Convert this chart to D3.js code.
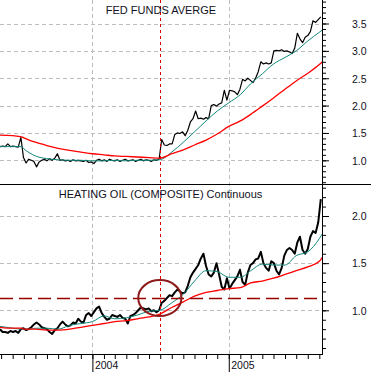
<!DOCTYPE html>
<html><head><meta charset="utf-8">
<script src="https://cdn.jsdelivr.net/npm/d3@7"></script>
<style>body{margin:0;background:#fff}svg{display:block}</style>
</head><body><svg id="c" width="371" height="372"></svg>
<script>
// ---------- DATA ----------
const weekStart = "2003-04-28";           // weekly readings start here, one value per week
const fedDaily = [
 1.25,1.26,1.25,1.30,1.25,1.26,1.25,1.24,1.42,1.05,
 0.95,1.02,1.00,0.98,0.88,0.97,1.00,1.02,0.99,1.03,
 1.00,1.04,1.12,1.00,1.01,0.99,1.00,0.98,1.01,0.99,
 1.00,0.99,0.98,1.00,0.96,0.97,0.94,1.00,1.02,0.99,
 1.01,0.98,1.02,1.00,0.99,1.01,0.98,1.00,1.02,0.99,
 1.00,1.01,0.98,1.00,1.02,0.99,1.01,1.00,0.98,1.01,
 1.00,1.02,
 1.38,1.28,1.27,1.30,1.30,1.47,1.50,1.49,
 1.52,1.45,1.55,1.70,1.76,1.90,1.76,1.77,1.75,1.78,
 1.76,2.00,2.02,1.99,2.03,2.05,2.28,2.10,2.28,2.27,
 2.25,2.20,2.30,2.48,2.45,2.50,2.46,2.42,2.50,2.62,
 2.80,2.76,2.78,2.76,2.78,3.00,3.01,3.00,3.02,2.99,
 3.00,2.98,2.95,3.05,3.32,3.22,3.15,3.25,3.28,3.35,
 3.55,3.52,3.57,3.62
];
const oilDaily = [
 0.80,0.77,0.77,0.76,0.78,0.77,0.78,0.76,0.80,0.81,
 0.79,0.80,0.82,0.85,0.87,0.85,0.82,0.81,0.80,0.77,
 0.75,0.79,0.81,0.85,0.88,0.85,0.83,0.84,0.87,0.86,
 0.91,0.88,0.87,0.95,0.97,0.94,0.98,1.02,1.04,0.97,
 0.93,0.90,0.91,0.95,0.94,0.93,0.95,0.92,0.91,0.86,
 0.94,0.95,0.97,1.00,1.03,1.02,1.01,1.02,0.99,1.00,
 0.98,1.00,1.08,1.10,1.13,1.16,1.15,1.19,1.22,1.20,
 1.18,1.19,1.26,1.35,1.40,1.44,1.48,1.55,1.60,1.47,
 1.38,1.36,1.40,1.50,1.38,1.25,1.22,1.34,1.23,1.28,
 1.32,1.36,1.43,1.30,1.27,1.40,1.48,1.50,1.54,1.55,
 1.62,1.50,1.45,1.42,1.52,1.50,1.42,1.38,1.45,1.58,
 1.64,1.66,1.64,1.60,1.72,1.78,1.64,1.60,1.65,1.78,
 1.84,1.82,1.93,2.18
];
const maDates = ["2003-04-28","2003-06-01","2003-06-25","2003-07-01","2003-07-15","2003-08-01",
 "2003-09-01","2003-10-01","2003-11-01","2003-12-01","2004-01-01","2004-02-01","2004-03-01",
 "2004-04-01","2004-05-01","2004-06-01","2004-06-30","2004-08-01","2004-09-01","2004-10-01",
 "2004-11-01","2004-12-01","2005-01-01","2005-02-01","2005-03-01","2005-04-01","2005-05-01",
 "2005-06-01","2005-07-01","2005-08-01","2005-09-01","2005-09-09"];
const fedFast = [1.25,1.25,1.25,1.21,1.14,1.08,1.03,1.01,1.00,1.00,0.99,0.99,1.00,0.99,1.00,1.00,
 1.01,1.15,1.33,1.52,1.72,1.90,2.05,2.20,2.40,2.58,2.76,2.88,3.00,3.18,3.34,3.38];
const fedSlow = [1.46,1.45,1.43,1.41,1.37,1.33,1.27,1.22,1.18,1.15,1.12,1.10,1.08,1.07,1.06,1.05,
 1.04,1.12,1.19,1.28,1.37,1.48,1.62,1.72,1.84,1.99,2.14,2.30,2.45,2.59,2.75,2.80];
const oilFast = [0.83,0.81,0.80,0.80,0.80,0.81,0.81,0.80,0.84,0.86,0.88,0.94,0.91,0.92,0.95,0.99,
 1.00,1.08,1.17,1.31,1.42,1.41,1.35,1.35,1.42,1.49,1.48,1.48,1.58,1.62,1.76,1.81];
const oilSlow = [0.82,0.81,0.81,0.80,0.80,0.80,0.79,0.79,0.80,0.82,0.84,0.86,0.88,0.89,0.91,0.93,
 0.96,1.03,1.09,1.15,1.19,1.21,1.23,1.24,1.29,1.31,1.34,1.38,1.42,1.46,1.52,1.56];
const fedTicks = [1.0,1.5,2.0,2.5,3.0,3.5];
const oilTicks = [1.0,1.5,2.0];
const yearTicks = ["2004-01-01","2005-01-01"];
const dateRange = ["2003-04-28","2005-09-09"];
const fedRange = [0.6,3.9], oilRange = [0.6,2.3];
const hikeDate = "2004-06-30";
const oilLevel = 1.125;
const noteCenter = ["2004-06-30", 1.13], noteRadiusDays = 58, noteRadiusValue = 0.19;
const fedTitle = "FED FUNDS AVERGE";
const oilTitle = "HEATING OIL (COMPOSITE) Continuous";

// ---------- CHART ----------
const parse = d3.timeParse("%Y-%m-%d");
const svg = d3.select("#c");
const R = 322.3, SEP = 184, BOT = 354;
const x = d3.scaleTime().domain(dateRange.map(parse)).range([0, R]);
const yT = d3.scaleLinear().domain([1, 3.5]).range([160.3, 23.5]);
const yB = d3.scaleLinear().domain([1, 2]).range([310.3, 216]);
const font = "'Liberation Sans', Arial, sans-serif";
const txt = "#111122";

const defs = svg.append("defs");
defs.append("clipPath").attr("id","ct").append("rect").attr("x",0).attr("y",0).attr("width",R).attr("height",SEP);
defs.append("clipPath").attr("id","cb").append("rect").attr("x",0).attr("y",SEP).attr("width",R).attr("height",BOT-SEP);

const wk0 = parse(weekStart);
const weekly = arr => arr.map((v,i)=>({d:d3.timeDay.offset(wk0, 7*i), v}));
const monthly = arr => arr.map((v,i)=>({d:parse(maDates[i]), v}));

// grid
const grid = svg.append("g");
fedTicks.forEach(t=>grid.append("line").attr("x1",0).attr("x2",R).attr("y1",Math.round(yT(t))+0.5).attr("y2",Math.round(yT(t))+0.5));
oilTicks.forEach(t=>grid.append("line").attr("x1",0).attr("x2",R).attr("y1",Math.round(yB(t))+0.5).attr("y2",Math.round(yB(t))+0.5));
yearTicks.forEach(t=>{const xx=Math.round(x(parse(t)))+0.5; grid.append("line").attr("x1",xx).attr("x2",xx).attr("y1",0).attr("y2",BOT);});
grid.selectAll("line").attr("stroke","#bdbdbd").attr("stroke-width",1).attr("stroke-dasharray","4,3");

function panel(clip, y, daily, fast, slow, bw){
  const g = svg.append("g").attr("clip-path",`url(#${clip})`);
  const l = d3.line().x(d=>x(d.d)).y(d=>y(d.v));
  const lm = d3.line().x(d=>x(d.d)).y(d=>y(d.v)).curve(d3.curveMonotoneX);
  g.append("path").datum(weekly(daily)).attr("d",l).attr("fill","none").attr("stroke","#000").attr("stroke-width",bw).attr("stroke-linejoin","round");
  g.append("path").datum(monthly(fast)).attr("d",lm).attr("fill","none").attr("stroke","#13877a").attr("stroke-width",1.0);
  g.append("path").datum(monthly(slow)).attr("d",lm).attr("fill","none").attr("stroke","#ff0000").attr("stroke-width",1.3);
  return g;
}
panel("ct", yT, fedDaily, fedFast, fedSlow, 1.2);
const gb = panel("cb", yB, oilDaily, oilFast, oilSlow, 2.0);

// annotations
gb.append("line").attr("x1",0).attr("x2",R).attr("y1",yB(oilLevel)).attr("y2",yB(oilLevel))
  .attr("stroke","#9a0000").attr("stroke-width",1.7).attr("stroke-dasharray","13,6");
const hx = Math.round(x(parse(hikeDate)))+0.5;
svg.append("line").attr("x1",hx).attr("x2",hx).attr("y1",0).attr("y2",BOT)
  .attr("stroke","#e00000").attr("stroke-width",1).attr("stroke-dasharray","3,3");
const cx = x(parse(noteCenter[0])), cy = yB(noteCenter[1]);
const rx = x(d3.timeDay.offset(parse(noteCenter[0]), noteRadiusDays)) - cx;
const ry = yB(noteCenter[1]-noteRadiusValue) - cy;
svg.append("ellipse").attr("cx",cx).attr("cy",cy).attr("rx",rx).attr("ry",ry)
  .attr("fill","none").attr("stroke","#8e1b1b").attr("stroke-width",2);

// frame lines
svg.append("line").attr("x1",0).attr("x2",371).attr("y1",SEP+0.5).attr("y2",SEP+0.5).attr("stroke","#000");
svg.append("line").attr("x1",0).attr("x2",R+0.5).attr("y1",BOT+0.5).attr("y2",BOT+0.5).attr("stroke","#000");
svg.append("line").attr("x1",Math.round(R)+0.5).attr("x2",Math.round(R)+0.5).attr("y1",0).attr("y2",BOT+1).attr("stroke","#000");

// right axes
function rightAxis(y, range, majors){
  const minor = d3.range(Math.round(range[0]*10), Math.round(range[1]*10)+1).map(d=>d/10);
  const g1 = svg.append("g").attr("transform",`translate(${Math.round(R)},0)`)
    .call(d3.axisRight(y).tickValues(minor).tickSize(4).tickFormat(""));
  g1.select(".domain").remove();
  const g2 = svg.append("g").attr("transform",`translate(${Math.round(R)},0)`)
    .call(d3.axisRight(y).tickValues(majors).tickSize(7).tickPadding(23).tickFormat(d3.format(".1f")));
  g2.select(".domain").remove();
  g2.selectAll("text").attr("font-family",font).attr("font-size","10.5px").attr("fill",txt).attr("dy","0.36em");
}
rightAxis(yT, fedRange, fedTicks);
rightAxis(yB, oilRange, oilTicks);

// bottom axis
const gm = svg.append("g").attr("transform",`translate(0,${BOT})`)
  .call(d3.axisBottom(x).ticks(d3.timeMonth.every(1)).tickSize(5).tickFormat(""));
gm.select(".domain").remove();
const gy = svg.append("g").attr("transform",`translate(0,${BOT})`)
  .call(d3.axisBottom(x).tickValues(yearTicks.map(parse)).tickSize(18).tickFormat(d3.timeFormat("%Y")));
gy.select(".domain").remove();
gy.selectAll("text").attr("x",2).attr("y",15).attr("dy",0).attr("text-anchor","start")
  .attr("font-family",font).attr("font-size","10.5px").attr("fill",txt);

// titles
svg.append("text").attr("x",161).attr("y",14).attr("text-anchor","middle").attr("font-family",font)
  .attr("font-size","11px").attr("fill",txt).text(fedTitle);
svg.append("text").attr("x",160.5).attr("y",197.5).attr("text-anchor","middle").attr("font-family",font)
  .attr("font-size","11px").attr("fill",txt).text(oilTitle);
</script></body></html>
